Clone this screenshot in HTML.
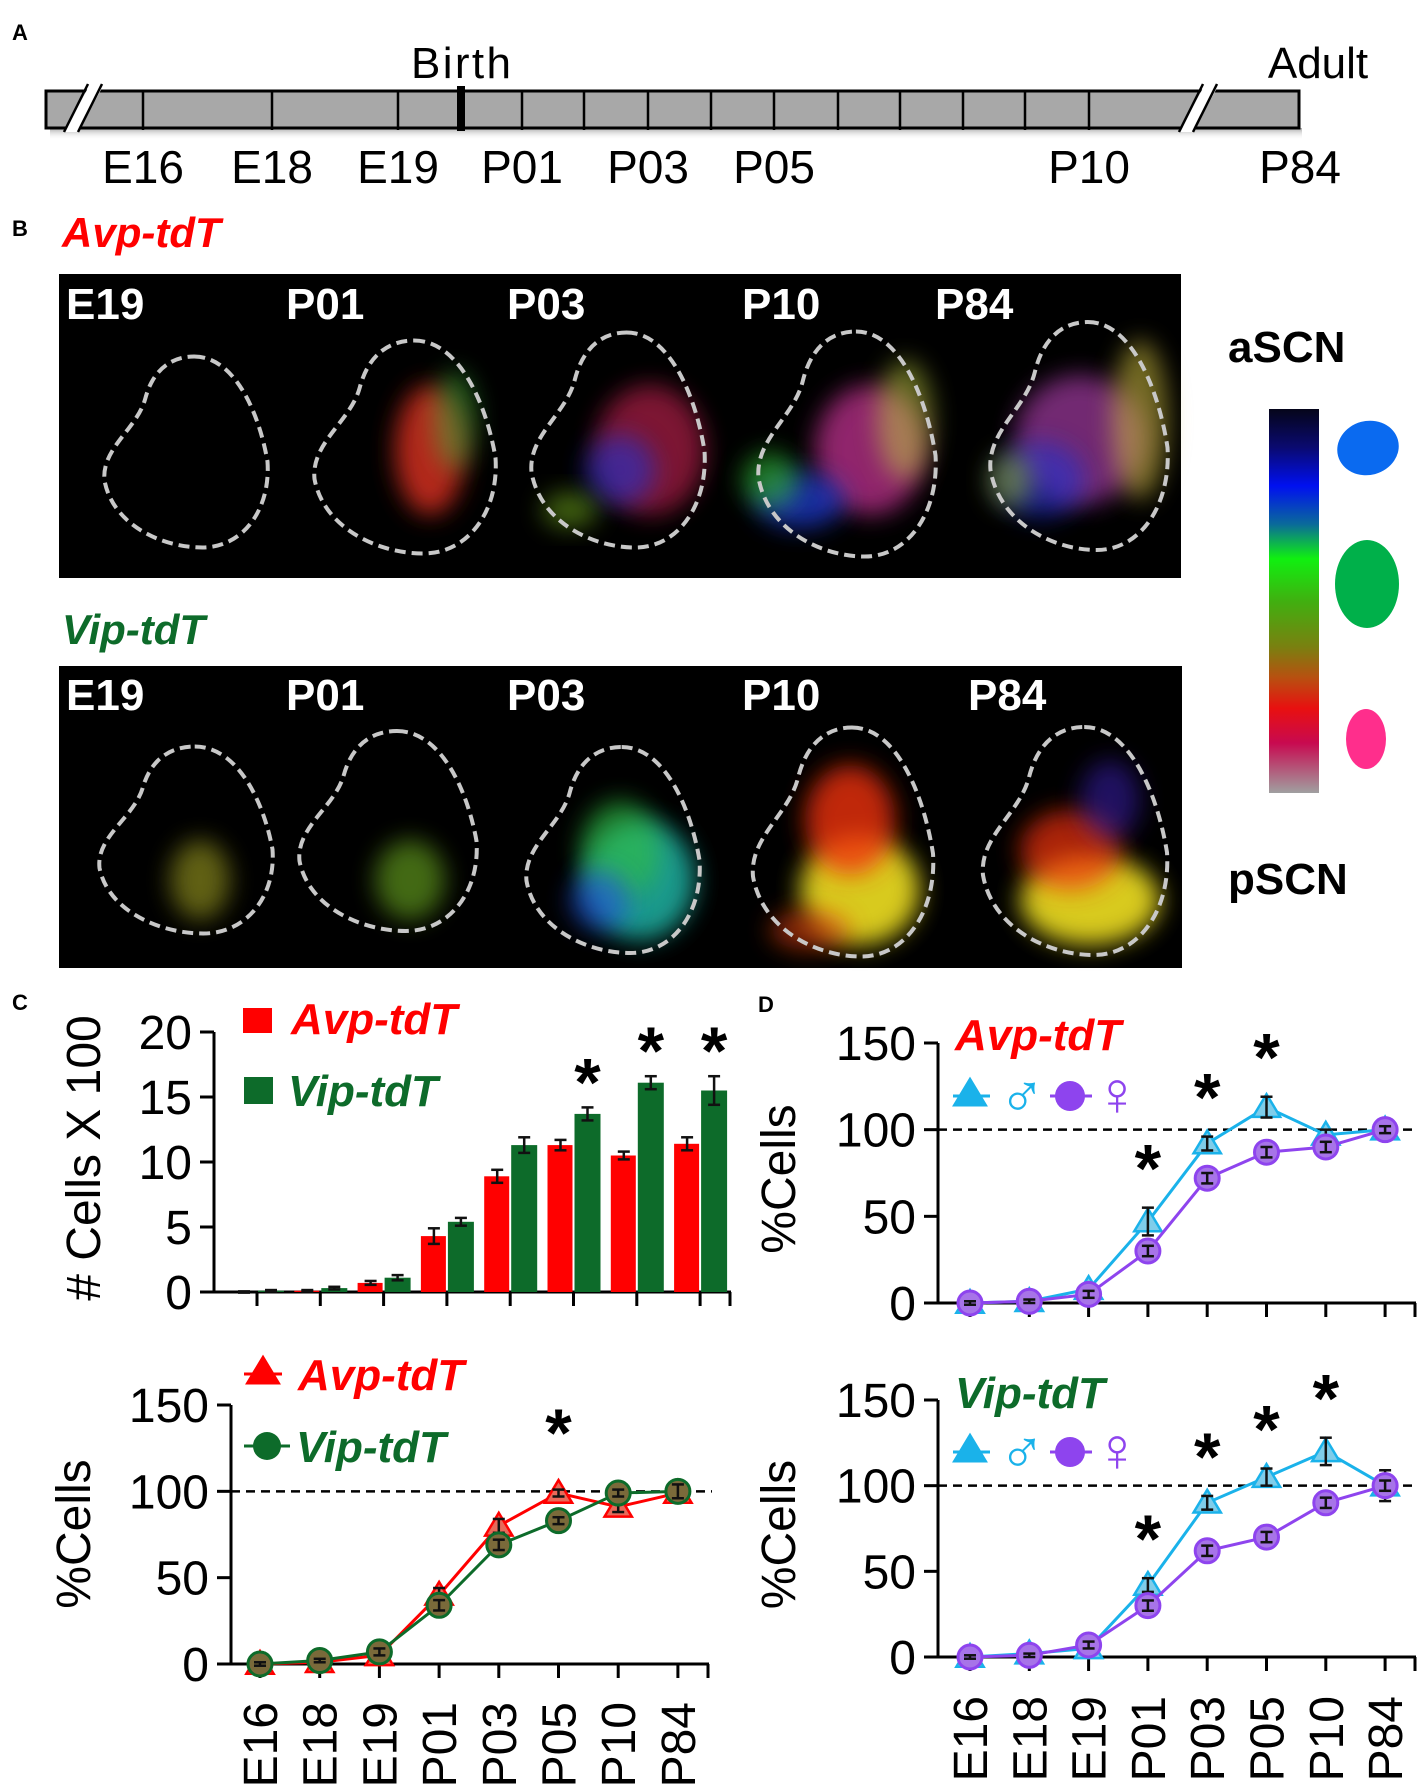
<!DOCTYPE html>
<html><head><meta charset="utf-8"><style>
html,body{margin:0;padding:0;background:#fff}
svg{display:block}
text{font-family:"Liberation Sans",Arial,sans-serif}
</style></head><body>
<svg id="fig" width="1418" height="1788" viewBox="0 0 1418 1788" xmlns="http://www.w3.org/2000/svg">
<defs>
<linearGradient id="cbar" x1="0" y1="0" x2="0" y2="1">
<stop offset="0" stop-color="#05051a"/><stop offset="0.1" stop-color="#0a0a70"/><stop offset="0.2" stop-color="#0010f0"/>
<stop offset="0.3" stop-color="#0a6a9a"/><stop offset="0.39" stop-color="#10f010"/><stop offset="0.5" stop-color="#40b010"/>
<stop offset="0.62" stop-color="#7a8010"/><stop offset="0.7" stop-color="#b85010"/><stop offset="0.78" stop-color="#e81010"/>
<stop offset="0.87" stop-color="#c80a50"/><stop offset="1" stop-color="#a0a0a0"/></linearGradient>
<filter id="blur" x="-50%" y="-50%" width="200%" height="200%"><feGaussianBlur stdDeviation="12"/></filter>
<linearGradient id="tshadow" x1="0" y1="0" x2="0" y2="1"><stop offset="0" stop-color="#aaa"/><stop offset="1" stop-color="#fff" stop-opacity="0"/></linearGradient>
</defs>
<g id="panelA"></g>
<g id="panelB"></g>
<g id="panelC"></g>
<g id="panelD"></g>
</svg>
<script>
// ---- chart data ----
const categories = ["E16","E18","E19","P01","P03","P05","P10","P84"];
const avpCounts = [0, 0.1, 0.7, 4.3, 8.9, 11.3, 10.5, 11.4];
const avpCountErr = [0.05, 0.05, 0.15, 0.6, 0.5, 0.4, 0.3, 0.5];
const vipCounts = [0.1, 0.3, 1.1, 5.4, 11.3, 13.7, 16.1, 15.5];
const vipCountErr = [0.05, 0.1, 0.2, 0.3, 0.6, 0.5, 0.5, 1.1];
const countStars = [5, 6, 7];
const countTicks = [0, 5, 10, 15, 20];
const avpPct = [0, 1, 5, 40, 80, 99, 91, 99];
const avpPctErr = [1, 1, 2, 4, 4, 2, 3, 2];
const vipPct = [0, 2, 7, 34, 69, 83, 99, 100];
const vipPctErr = [1, 1, 2, 3, 3, 2, 2, 4];
const pctStarsC = [5];
const pctTicks = [0, 50, 100, 150];
const avpMale = [0, 1, 8, 47, 92, 113, 97, 100];
const avpMaleErr = [1, 1, 3, 8, 4, 6, 3, 2];
const avpFemale = [0, 1, 5, 30, 72, 87, 90, 100];
const avpFemaleErr = [1, 1, 2, 3, 3, 3, 3, 2];
const avpSexStars = [3, 4, 5];
const vipMale = [0, 2, 5, 42, 90, 105, 120, 100];
const vipMaleErr = [1, 1, 2, 4, 4, 5, 8, 9];
const vipFemale = [0, 1, 7, 30, 62, 70, 90, 100];
const vipFemaleErr = [1, 1, 2, 3, 3, 3, 3, 3];
const vipSexStars = [3, 4, 5, 6];
const timelineLabels = ["E16","E18","E19","P01","P03","P05","P10","P84"];

const NS = "http://www.w3.org/2000/svg";
function mk(parent, tag, attrs, txt){
  const e = document.createElementNS(NS, tag);
  for (const k in attrs) e.setAttribute(k, attrs[k]);
  if (txt !== undefined) e.textContent = txt;
  parent.appendChild(e); return e;
}
const RED="#ff0000", GREEN="#0d6b2a", CYAN="#1ab2ea", PURPLE="#8e44ee";

// ---- Panel A timeline ----
(function(){
  const g = document.getElementById('panelA');
  let t = mk(g,'text',{x:12,y:40,'font-size':22,'font-weight':'bold'},'A');
   
  mk(g,'rect',{x:50,y:128,width:1252,height:12,fill:'url(#tshadow)'});
  const bar = mk(g,'rect',{x:46,y:91,width:1253,height:37,fill:'#a8a8a8',stroke:'#000','stroke-width':3});
   
  const ticks=[143,272,398,522,584,648,711,774,838,900,963,1025,1089];
  ticks.forEach(x=>mk(g,'line',{x1:x,y1:91,x2:x,y2:130,stroke:'#000','stroke-width':2.5}));
  [[70,1],[1185,1]].forEach(([x])=>{
    mk(g,'polygon',{points:`${x+18},88 ${x+32},88 ${x+8},132 ${x-6},132`,fill:'#fff'});
    mk(g,'line',{x1:x+18,y1:84,x2:x-6,y2:132,stroke:'#000','stroke-width':2.5});
    mk(g,'line',{x1:x+32,y1:84,x2:x+8,y2:132,stroke:'#000','stroke-width':2.5});
  });
  const bm = mk(g,'rect',{x:457,y:86,width:8,height:45,fill:'#000'});
   
  t = mk(g,'text',{x:461,y:78,'font-size':44,'text-anchor':'middle',textLength:100},'Birth');
   
  t = mk(g,'text',{x:1318,y:78,'font-size':44,'text-anchor':'middle'},'Adult');
   
  const lx=[143,272,398,522,648,774,1089,1300];
  timelineLabels.forEach((l,i)=>{
    const e = mk(g,'text',{x:lx[i],y:183,'font-size':46,'text-anchor':'middle'},l);
     
  });
})();

// ---- Panel B images ----
(function(){
  const g = document.getElementById('panelB');
  let t = mk(g,'text',{x:12,y:236,'font-size':22,'font-weight':'bold'},'B');
   
  t = mk(g,'text',{x:62,y:247,'font-size':42,'font-weight':'bold','font-style':'italic',fill:RED},'Avp-tdT');
   
  t = mk(g,'text',{x:62,y:644,'font-size':42,'font-weight':'bold','font-style':'italic',fill:GREEN},'Vip-tdT');
   
  function outline(cx,cy,w,h){
    const x0=cx-w/2,y0=cy-h/2;
    const P=(a,b)=>`${(x0+a*w).toFixed(1)},${(y0+b*h).toFixed(1)}`;
    const d=`M${P(0.55,0)} C${P(0.8,0)} ${P(0.95,0.3)} ${P(1,0.55)} C${P(1.02,0.8)} ${P(0.85,1)} ${P(0.6,1)} C${P(0.35,1)} ${P(0.05,0.88)} ${P(0,0.65)} C${P(-0.02,0.48)} ${P(0.2,0.38)} ${P(0.25,0.22)} C${P(0.3,0.06)} ${P(0.42,0)} ${P(0.55,0)} Z`;
    const p = mk(g,'path',{d:d,fill:'none',stroke:'#c8c8c8','stroke-width':4,'stroke-dasharray':'11 6'});
     
  }
  function blob(cx,cy,rx,ry,col,op){ mk(g,'ellipse',{cx:cx,cy:cy,rx:rx,ry:ry,fill:col,opacity:op,filter:'url(#blur)'}); }
  let r = mk(g,'rect',{x:59,y:274,width:1122,height:304,fill:'#000'});
   
  blob(430,450,35,65,'#e03020',0.8); blob(455,420,22,50,'#40c040',0.45);
  blob(650,450,55,65,'#c02050',0.65); blob(620,470,35,35,'#2030d0',0.6); blob(570,510,28,18,'#80c020',0.5);
  blob(870,450,55,65,'#c03090',0.75); blob(800,500,45,28,'#2040e0',0.7); blob(770,480,28,28,'#30c030',0.6); blob(905,420,28,60,'#c0d040',0.5);
  blob(1080,440,65,65,'#b040b0',0.65); blob(1040,480,45,38,'#2030d0',0.6); blob(1140,420,28,80,'#d0c040',0.55); blob(1010,480,22,28,'#a0c030',0.5);
  [[186,452,163,191],[405,447,181,213],[618,440,173,215],[847,444,177,225],[1079,436,177,228]].forEach(a=>outline(...a));
  const l1=[[66,'E19'],[286,'P01'],[507,'P03'],[742,'P10'],[935,'P84']];
  l1.forEach(([x,s])=>{const e=mk(g,'text',{x:x,y:319,'font-size':44,'font-weight':'bold',fill:'#fff'},s);
     });
  r = mk(g,'rect',{x:59,y:666,width:1123,height:302,fill:'#000'});
   
  blob(200,880,30,40,'#a0a020',0.6); blob(410,880,35,40,'#70b020',0.6);
  blob(640,880,55,60,'#20c0b0',0.8); blob(620,850,40,50,'#30c040',0.6); blob(600,900,30,30,'#2050e0',0.6);
  blob(860,890,60,55,'#f0e020',0.9); blob(850,820,45,55,'#f03010',0.8); blob(810,930,40,20,'#e04010',0.6);
  blob(1090,900,70,45,'#f0e020',0.9); blob(1070,850,50,40,'#f03010',0.7); blob(1110,800,30,40,'#4020c0',0.5);
  [[186,840,173,187],[388,831,177,200],[613,850,173,206],[843,842,180,229],[1075,841,184,228]].forEach(a=>outline(...a));
  const l2=[[66,'E19'],[286,'P01'],[507,'P03'],[742,'P10'],[968,'P84']];
  l2.forEach(([x,s])=>{const e=mk(g,'text',{x:x,y:710,'font-size':44,'font-weight':'bold',fill:'#fff'},s);
     });
  t = mk(g,'text',{x:1228,y:362,'font-size':44,'font-weight':'bold'},'aSCN');
   
  t = mk(g,'text',{x:1228,y:894,'font-size':44,'font-weight':'bold'},'pSCN');
   
  r = mk(g,'rect',{x:1269,y:409,width:50,height:384,fill:'url(#cbar)'});
   
  let b = mk(g,'ellipse',{cx:1368,cy:448,rx:31,ry:27,fill:'#0a6af0',transform:'rotate(-15 1368 448)'});
   
  b = mk(g,'ellipse',{cx:1367,cy:584,rx:32,ry:44,fill:'#00b04a'});
   
  b = mk(g,'ellipse',{cx:1366,cy:739,rx:20,ry:30,fill:'#ff2e8c'});
   
})();

function makeAxes(g, o){
  const yS = v => o.y0 - (v/o.vmax)*(o.y0-o.yTop);
  const xS = i => o.catX0 + i*o.catStep;
  let a = mk(g,'line',{x1:o.x0,y1:o.yTop,x2:o.x0,y2:o.y0,stroke:'#000','stroke-width':3});
   
  a = mk(g,'line',{x1:o.x0-14,y1:o.y0,x2:o.xEnd,y2:o.y0,stroke:'#000','stroke-width':3});
   
  o.ticks.forEach(v=>{
    mk(g,'line',{x1:o.x0-14,y1:yS(v),x2:o.x0,y2:yS(v),stroke:'#000','stroke-width':3});
    const e = mk(g,'text',{x:o.x0-22,y:yS(v)+17,'font-size':48,'text-anchor':'end'},String(v));
     
  });
  for (let i=0;i<categories.length;i++){
    const x = xS(i);
    mk(g,'line',{x1:x,y1:o.y0,x2:x,y2:o.y0+14,stroke:'#000','stroke-width':3});
  }
  mk(g,'line',{x1:o.xEnd-1,y1:o.y0,x2:o.xEnd-1,y2:o.y0+14,stroke:'#000','stroke-width':3});
  return {xS, yS};
}
function xLabels(g, xS, top){
  categories.forEach((c,i)=>{
    const x = xS(i)+17;
    const e = mk(g,'text',{x:x,y:top,'font-size':48,'text-anchor':'end',transform:`rotate(-90 ${x} ${top})`},c);
     
  });
}
function yTitle(g, x, y, s){
  const e = mk(g,'text',{x:x,y:y,'font-size':48,'text-anchor':'middle',transform:`rotate(-90 ${x} ${y})`},s);
   
}
function star(g, x, y){
  const e = mk(g,'text',{x:x,y:y+6,'font-size':68,'font-weight':'bold','text-anchor':'middle'},'*');
   
}
function errBar(g, x, y1, y2){
  mk(g,'line',{x1:x,y1:y1,x2:x,y2:y2,stroke:'#111','stroke-width':2.5});
  mk(g,'line',{x1:x-6,y1:y1,x2:x+6,y2:y1,stroke:'#111','stroke-width':2.5});
  mk(g,'line',{x1:x-6,y1:y2,x2:x+6,y2:y2,stroke:'#111','stroke-width':2.5});
}
function tri(g,x,y,s,fill,stroke){ return mk(g,'polygon',{points:`${x},${y-s} ${x+s*1.05},${y+s*0.75} ${x-s*1.05},${y+s*0.75}`,fill:fill,stroke:stroke,'stroke-width':2.5}); }
function lineSeries(g, xS, yS, vals, errs, col, fill, shape, name){
  const pts = vals.map((v,i)=>`${xS(i)},${yS(v)}`).join(' ');
  const pl = mk(g,'polyline',{points:pts,fill:'none',stroke:col,'stroke-width':3});
   
  vals.forEach((v,i)=>{
    let m;
    if (shape==='tri') m = tri(g,xS(i),yS(v),13,fill,col);
    else m = mk(g,'circle',{cx:xS(i),cy:yS(v),r:12,fill:fill,stroke:col,'stroke-width':3});
     
    errBar(g, xS(i), yS(v+errs[i]), yS(v-errs[i]));
  });
}

// ---- Panel C ----
(function(){
  const g = document.getElementById('panelC');
  let t = mk(g,'text',{x:12,y:1010,'font-size':22,'font-weight':'bold'},'C');
   
  const gb = mk(g,'g',{});  
  const ax = makeAxes(gb,{x0:214,xEnd:731,y0:1292,yTop:1032,vmax:20,ticks:countTicks,catX0:257,catStep:63.3});
  categories.forEach((c,i)=>{
    const x = ax.xS(i);
    let r = mk(gb,'rect',{x:x-26,y:ax.yS(avpCounts[i]),width:25,height:ax.yS(0)-ax.yS(avpCounts[i]),fill:RED});
     
    r = mk(gb,'rect',{x:x+1,y:ax.yS(vipCounts[i]),width:26,height:ax.yS(0)-ax.yS(vipCounts[i]),fill:GREEN});
     
    errBar(gb,x-13,ax.yS(avpCounts[i]+avpCountErr[i]),ax.yS(avpCounts[i]-avpCountErr[i]));
    errBar(gb,x+14,ax.yS(vipCounts[i]+vipCountErr[i]),ax.yS(vipCounts[i]-vipCountErr[i]));
  });
  countStars.forEach(i=>star(gb, ax.xS(i)+14, ax.yS(vipCounts[i]+vipCountErr[i])-8));
  yTitle(gb, 100, 1158, '# Cells X 100');
  let r = mk(gb,'rect',{x:243,y:1008,width:29,height:25,fill:RED});  
  t = mk(gb,'text',{x:291,y:1034,'font-size':44,'font-weight':'bold','font-style':'italic',fill:RED},'Avp-tdT');
   
  r = mk(gb,'rect',{x:244,y:1077,width:29,height:27,fill:GREEN});  
  t = mk(gb,'text',{x:288,y:1106,'font-size':44,'font-weight':'bold','font-style':'italic',fill:GREEN},'Vip-tdT');
   

  const gl = mk(g,'g',{});  
  const a2 = makeAxes(gl,{x0:231,xEnd:709,y0:1664,yTop:1405,vmax:150,ticks:pctTicks,catX0:260,catStep:59.7});
  const dl = mk(gl,'line',{x1:231,y1:a2.yS(100),x2:712,y2:a2.yS(100),stroke:'#000','stroke-width':2.5,'stroke-dasharray':'9 6'});
   
  lineSeries(gl,a2.xS,a2.yS,avpPct,avpPctErr,RED,'#e86a5a','tri','avp-pct');
  lineSeries(gl,a2.xS,a2.yS,vipPct,vipPctErr,GREEN,'#7a6a3a','circ','vip-pct');
  pctStarsC.forEach(i=>star(gl, a2.xS(i), 1450));
  yTitle(gl, 90, 1534, '%Cells');
  xLabels(gl, a2.xS, 1702);
  mk(gl,'line',{x1:244,y1:1374,x2:282,y2:1374,stroke:RED,'stroke-width':3});
  let m = tri(gl,263,1372,15,RED,RED);  
  t = mk(gl,'text',{x:298,y:1390,'font-size':44,'font-weight':'bold','font-style':'italic',fill:RED},'Avp-tdT');
   
  mk(gl,'line',{x1:244,y1:1446,x2:290,y2:1446,stroke:GREEN,'stroke-width':3});
  m = mk(gl,'circle',{cx:267,cy:1446,r:14,fill:GREEN});  
  t = mk(gl,'text',{x:296,y:1462,'font-size':44,'font-weight':'bold','font-style':'italic',fill:GREEN},'Vip-tdT');
   
})();

// ---- Panel D ----
(function(){
  const g = document.getElementById('panelD');
  let t = mk(g,'text',{x:758,y:1012,'font-size':22,'font-weight':'bold'},'D');
   
  function sexChart(y0, yTop, title, tcol, male, maleErr, female, femaleErr, stars, name, legY, titleY){
    const gc = mk(g,'g',{});  
    const a = makeAxes(gc,{x0:938,xEnd:1416,y0:y0,yTop:yTop,vmax:150,ticks:pctTicks,catX0:970,catStep:59.3});
    const dl = mk(gc,'line',{x1:938,y1:a.yS(100),x2:1418,y2:a.yS(100),stroke:'#000','stroke-width':2.5,'stroke-dasharray':'9 6'});
     
    lineSeries(gc,a.xS,a.yS,male,maleErr,CYAN,'#7fcdea','tri','male');
    lineSeries(gc,a.xS,a.yS,female,femaleErr,PURPLE,'#a774e8','circ','female');
    stars.forEach(i=>{
      const top = a.yS(male[i]+maleErr[i]);
      star(gc, a.xS(i), top-22);
    });
    yTitle(gc, 795, (y0+yTop)/2+6, '%Cells');
    let e = mk(gc,'text',{x:955,y:titleY,'font-size':44,'font-weight':'bold','font-style':'italic',fill:tcol},title);
     
    mk(gc,'line',{x1:953,y1:legY,x2:990,y2:legY,stroke:CYAN,'stroke-width':3});
    e = tri(gc,970,legY-2,15,CYAN,CYAN);  
    e = mk(gc,'text',{x:1022,y:legY+19,'font-size':62,'font-weight':'bold',fill:CYAN,'text-anchor':'middle','font-family':'DejaVu Sans'},'♂');
     
    mk(gc,'line',{x1:1050,y1:legY,x2:1092,y2:legY,stroke:PURPLE,'stroke-width':3});
    e = mk(gc,'circle',{cx:1070,cy:legY,r:15,fill:PURPLE});  
    e = mk(gc,'text',{x:1117,y:legY+19,'font-size':62,'font-weight':'bold',fill:PURPLE,'text-anchor':'middle','font-family':'DejaVu Sans'},'♀');
     
    return a;
  }
  sexChart(1303,1043,'Avp-tdT',RED,avpMale,avpMaleErr,avpFemale,avpFemaleErr,avpSexStars,'avp-sex-chart',1096,1050);
  const a = sexChart(1657,1400,'Vip-tdT',GREEN,vipMale,vipMaleErr,vipFemale,vipFemaleErr,vipSexStars,'vip-sex-chart',1452,1408);
  xLabels(g, a.xS, 1696);
})();
</script>
</body></html>
